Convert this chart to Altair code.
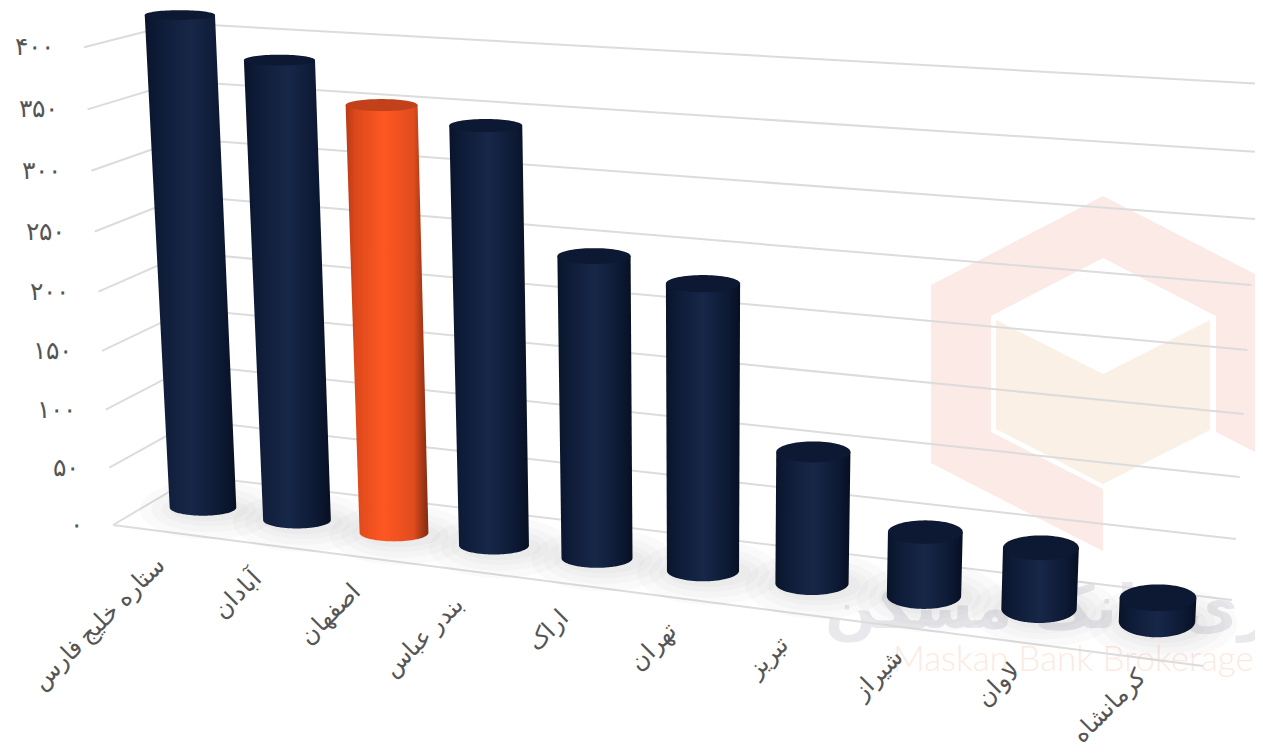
import altair as alt
import numpy as np
import pandas as pd

# ---- chart data ----
categories = ["ستاره خلیج فارس", "آبادان", "اصفهان", "بندر عباس", "اراک",
              "تهران", "تبریز", "شیراز", "لاوان", "کرمانشاه"]
values = [421, 388, 356, 345, 245, 230, 104, 50, 47, 18]
highlight = "اصفهان"
y_ticks = [0, 50, 100, 150, 200, 250, 300, 350, 400]
y_tick_labels = ["۰", "۵۰", "۱۰۰", "۱۵۰", "۲۰۰", "۲۵۰", "۳۰۰", "۳۵۰", "۴۰۰"]

W, H = 1247, 739
FONT = "Liberation Serif"
x_s = alt.Scale(domain=[8, 8 + W], nice=False, zero=False)
y_s = alt.Scale(domain=[8 + H, 8], nice=False, zero=False)


def X(f="x"):
    return alt.X(f"{f}:Q", scale=x_s, axis=None)


def Y(f="y"):
    return alt.Y(f"{f}:Q", scale=y_s, axis=None)


# ---- perspective helpers: floor position + value -> page position ----
def base(i):
    return 203 + 94 * i + 1.5 * i * (i - 1), 507.5 + 12.65 * i


def unit_scale(i):
    return 1.17 + 0.0157 * i


def wall_left(k):
    return 113 - 29 * k / 8, 525 - (57 * k + 0.34 * k * k)


def wall_corner(k):
    return 196 - 18 * k / 8, 476 - (55 * k + 0.2 * k * k)


def wall_right(k):
    return 1232 + 31 * k / 8, 600 - (60.5 * k + 0.5 * k * k)


def ellipse(cx, cy, rx, ry, tmin=-np.pi / 2, tmax=np.pi / 2, n=41):
    t = np.linspace(tmin, tmax, n)
    return pd.DataFrame({"y": cy + ry * np.sin(t),
                         "x": cx - rx * np.cos(t),
                         "x2": cx + rx * np.cos(t)})


def foot_ry(i):
    return 8.2 + 0.095 * i * i


def cylinder(i, v):
    bx, by = base(i)
    h = v * unit_scale(i)
    tx = bx - (703 - bx) * h / 10640
    ty = by - h
    rb = 33.3 + 0.55 * i
    rt = rb + 0.0037 * h
    ryt = (9 + 0.78 * i) * (0.85 - 0.00065 * h)
    side = pd.DataFrame({"y": [ty, by],
                         "x": [tx - rt, bx - rb],
                         "x2": [tx + rt, bx + rb]})
    foot = ellipse(bx, by, rb, foot_ry(i), 0.02, np.pi / 2)
    body = pd.concat([side, foot], ignore_index=True)
    top = ellipse(tx, ty, rt, ryt)
    return body, top


def gradient(stops):
    return alt.Gradient(gradient="linear", x1=0, x2=1, y1=0, y2=0,
                        stops=[alt.GradientStop(offset=o, color=c) for o, c in stops])


NAVY = [(0, "#091429"), (0.14, "#0e1b37"), (0.5, "#172748"), (0.82, "#0d1a35"), (1, "#070f22")]
ORANGE = [(0, "#b83a16"), (0.12, "#dc481b"), (0.45, "#ff5722"), (0.82, "#e04c1e"), (1, "#7f2a10")]

layers = []

# ---- watermark logo ----
cx, cy = 1103, 373.5


def seg(name, x0, x1, t0, t1, b0, b1):
    return pd.DataFrame({"g": name, "x": [cx + x0, cx + x1],
                         "y": [cy + t0, cy + t1], "y2": [cy + b0, cy + b1]})


outer = pd.concat([
    seg("a", -172, -112, -88.5, -119.5, 89.5, 120.5),
    seg("b", -112, 0, -119.5, -177.5, -57.5, -115.5),
    seg("c", -112, 0, 58.5, 115.5, 120.5, 177.5),
    seg("d", 0, 113, -177.5, -119.5, -115.5, -57.5),
    seg("e", 113, 160, -119.5, -95.5, 58.5, 82.5),
], ignore_index=True)
layers.append(alt.Chart(outer).mark_area(color="#fbeae6").encode(
    x=X(), y=Y(), y2="y2:Q", detail="g:N"))
cube = pd.concat([
    seg("a", -107, 0, -53.5, 0.5, 55.5, 110.5),
    seg("b", 0, 107, 0.5, -53.5, 110.5, 56.5),
], ignore_index=True)
layers.append(alt.Chart(cube).mark_area(color="#fbf0e6").encode(
    x=X(), y=Y(), y2="y2:Q", detail="g:N"))

wm = pd.DataFrame({"x": [825, 893], "y": [610, 660],
                   "t": ["کارگزاری بانک مسکن", "Maskan Bank Brokerage"]})
layers.append(alt.Chart(wm.iloc[[0]]).mark_text(
    align="left", baseline="middle", font="DejaVu Sans", fontSize=60, fontWeight="bold",
    color="#e9e9ed").encode(x=X(), y=Y(), text="t:N"))
layers.append(alt.Chart(wm.iloc[[1]]).mark_text(
    align="left", baseline="middle", font="Lato", fontSize=35, fontWeight=300,
    color="#fbeae2").encode(x=X(), y=Y(), text="t:N"))

# ---- walls and floor ----
grid_rows = []
for v in y_ticks:
    k = v / 50
    for part, pt in enumerate([wall_left(k), wall_corner(k), wall_right(k)]):
        grid_rows.append({"g": str(v), "o": part, "x": pt[0], "y": pt[1]})
fl, fc = wall_left(0), (1203, 666)
grid_rows += [{"g": "front", "o": 0, "x": fl[0], "y": fl[1]},
              {"g": "front", "o": 1, "x": fc[0], "y": fc[1]}]
layers.append(alt.Chart(pd.DataFrame(grid_rows)).mark_line(
    color="#dcdcdc", strokeWidth=2).encode(
    x=X(), y=Y(), detail="g:N", order="o:Q"))

# ---- soft shadows under the cylinders ----
shadow = []
for i in range(len(values)):
    bx, by = base(i)
    rb = 33.3 + 0.55 * i
    ryb = foot_ry(i)
    for j, grow in enumerate([6, 14, 24, 36]):
        e = ellipse(bx + 6, by + 2, rb + grow, ryb + grow * 0.6)
        e["g"] = f"{i}-{j}"
        shadow.append(e)
layers.append(alt.Chart(pd.concat(shadow, ignore_index=True)).mark_area(
    orient="horizontal", color="#8a8a8a", opacity=0.045).encode(
    y=Y(), x=X(), x2="x2:Q", detail="g:N"))

# ---- cylinders ----
for i, (c, v) in enumerate(zip(categories, values)):
    body, top = cylinder(i, v)
    hot = c == highlight
    layers.append(alt.Chart(body).mark_area(
        orient="horizontal", color=gradient(ORANGE if hot else NAVY)).encode(
        y=Y(), x=X(), x2="x2:Q"))
    layers.append(alt.Chart(top).mark_area(
        orient="horizontal", color="#c2401a" if hot else "#0d1833").encode(
        y=Y(), x=X(), x2="x2:Q"))

# ---- value labels ----
tick_df = pd.DataFrame({
    "t": y_tick_labels,
    "x": [wall_left(v / 50)[0] - 30 for v in y_ticks],
    "y": [wall_left(v / 50)[1] for v in y_ticks],
})
layers.append(alt.Chart(tick_df).mark_text(
    align="right", baseline="middle", font=FONT, fontSize=25, color="#555555").encode(
    x=X(), y=Y(), text="t:N"))

# ---- category labels (the last one is pulled up so that it stays on the page) ----
cat_df = pd.DataFrame({
    "t": categories,
    "x": [base(i)[0] - 50 + 2.4 * i + (5 if i == 9 else 0) for i in range(len(categories))],
    "y": [553 + 13.2 * i - (6 if i == 9 else 0) for i in range(len(categories))],
})
layers.append(alt.Chart(cat_df).mark_text(
    align="right", baseline="top", angle=315, font=FONT, fontSize=24, color="#555555").encode(
    x=X(), y=Y(), text="t:N"))

chart = alt.layer(*layers).properties(
    width=W, height=H, padding=0,
    autosize=alt.AutoSizeParams(type="none"),
).configure_view(stroke=None)

chart.save("out.html", embed_options={"renderer": "svg", "actions": False})
